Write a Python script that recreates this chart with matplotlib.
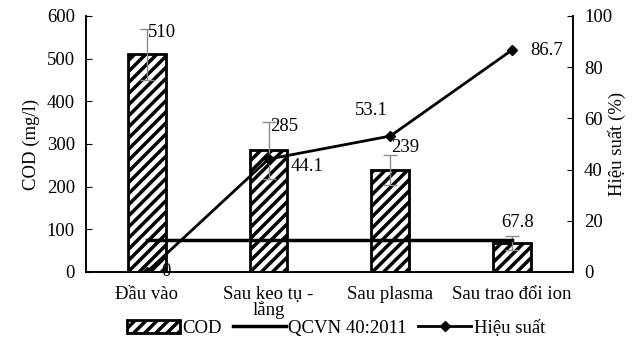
import numpy as np
import matplotlib
matplotlib.use("Agg")
from matplotlib import pyplot as plt

plt.rcParams['font.family'] = ['Liberation Serif', 'DejaVu Serif']
plt.rcParams['hatch.linewidth'] = 2.5

stages = ["Đầu vào", "Sau keo tụ -\nlắng", "Sau plasma", "Sau trao đổi ion"]
cod = [510, 285, 239, 67.8]
cod_err = [59, 66, 35, 16]
qcvn = [75, 75, 75, 75]
efficiency = [0, 44.1, 53.1, 86.7]

x = np.arange(len(stages))

fig = plt.figure(figsize=(6.34, 3.40), dpi=100)
ax = fig.add_axes([0.1356, 0.2, 0.768, 0.753])
ax2 = ax.twinx()

bars = ax.bar(x, cod, width=0.31, color='white', edgecolor='black', linewidth=2,
              hatch='///', yerr=cod_err, error_kw=dict(ecolor='#8c8c8c', elinewidth=1, capsize=5),
              label='COD', zorder=2)
qline, = ax.plot(x, qcvn, color='black', linewidth=2.5, label='QCVN 40:2011', zorder=3)
eline, = ax2.plot(x, efficiency, color='black', linewidth=2, marker='D', markersize=5,
                  label='Hiệu suất', zorder=4)

ax.set_xlim(-0.5, 3.5)
ax.set_ylim(0, 600)
ax.set_yticks(range(0, 601, 100))
ax2.set_ylim(0, 100)
ax2.set_yticks(range(0, 101, 20))

fs = 13.5
ax.set_xticks(x)
ax.set_xticklabels(stages, fontsize=fs, linespacing=0.85)
ax.tick_params(axis='x', length=0, pad=10)
ax.tick_params(axis='y', labelsize=fs, direction='in', length=4, pad=8)
ax2.tick_params(axis='y', labelsize=fs, direction='in', length=4, pad=8)
ax.set_ylabel("COD (mg/l)", fontsize=fs, labelpad=5)
ax2.set_ylabel("Hiệu suất (%)", fontsize=fs, labelpad=-3)

for a in (ax, ax2):
    a.spines['top'].set_visible(False)
    for sp in a.spines.values():
        sp.set_linewidth(1.2)

# value labels for bars, just above the error caps
offsets = [-8, -11, 17]
for i, v in enumerate(cod[:3]):
    ax.text(x[i] + 0.01, v + cod_err[i] + offsets[i], f"{v:g}", fontsize=fs, ha='left', va='center')
ax.text(x[3] + 0.05, cod[3] + cod_err[3] + 12, f"{cod[3]:g}", fontsize=fs, ha='center', va='bottom')

# value labels for efficiency
ax2.text(x[0] + 0.12, efficiency[0], f"{efficiency[0]:g}", fontsize=fs, ha='left', va='center')
ax2.text(x[1] + 0.18, efficiency[1] - 3, f"{efficiency[1]:g}", fontsize=fs, ha='left', va='center')
ax2.text(x[2] - 0.02, efficiency[2] + 10, f"{efficiency[2]:g}", fontsize=fs, ha='right', va='center')
ax2.text(x[3] + 0.42, efficiency[3], f"{efficiency[3]:g}", fontsize=fs, ha='right', va='center')

fig.legend([bars, qline, eline], ['COD', 'QCVN 40:2011', 'Hiệu suất'],
           loc='lower center', bbox_to_anchor=(0.53, -0.04), ncol=3, frameon=False,
           fontsize=fs, handlelength=2.8, handletextpad=0.15, columnspacing=0.6)

plt.savefig("out.png", dpi=100)
